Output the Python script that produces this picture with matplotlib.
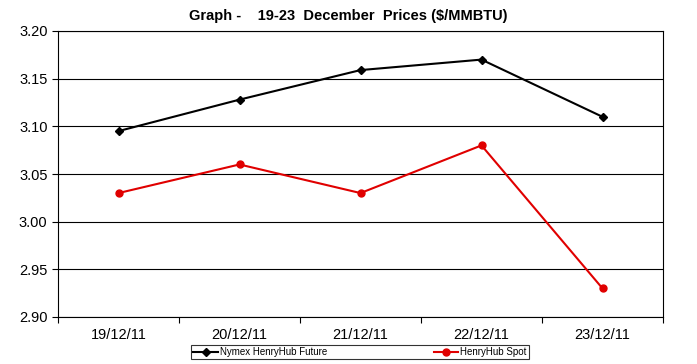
import matplotlib
matplotlib.use("Agg")
import matplotlib.pyplot as plt
from matplotlib.ticker import FixedLocator

plt.rcParams['font.family'] = ['Liberation Sans', 'DejaVu Sans']

dates = ["19/12/11", "20/12/11", "21/12/11", "22/12/11", "23/12/11"]
future = [3.095, 3.128, 3.159, 3.170, 3.110]
spot = [3.03, 3.06, 3.03, 3.08, 2.93]
yticks = [2.90, 2.95, 3.00, 3.05, 3.10, 3.15, 3.20]

fig = plt.figure(figsize=(6.97, 3.64), dpi=100)
ax = fig.add_axes([58/697, 1-317/364, (663-58)/697, (317-31)/364])

x = list(range(len(dates)))
ax.plot(x, future, color='black', lw=1.5, marker='D', ms=4, label='Nymex HenryHub Future', zorder=3)
ax.plot(x, spot, color='#e00000', lw=1.5, marker='o', ms=5, label='HenryHub Spot', zorder=3)

ax.set_xlim(-0.5, len(dates)-0.5)
ax.set_ylim(2.90, 3.20)
ax.set_yticks(yticks)
ax.set_yticklabels([f"{v:.2f}" for v in yticks], fontsize=10.5)
ax.set_xticks(x)
ax.set_xticklabels(dates, fontsize=10.5)
ax.xaxis.set_minor_locator(FixedLocator([i - 0.5 for i in range(len(dates) + 1)]))
ax.yaxis.grid(True, color='black', lw=0.8)
ax.set_axisbelow(True)
for s in ax.spines.values():
    s.set_linewidth(0.8)
ax.tick_params(axis='y', length=4, width=0.8, direction='out')
ax.tick_params(axis='x', which='major', length=0, pad=8)
ax.tick_params(axis='x', which='minor', length=4, width=0.8, direction='out')

fig.suptitle("Graph -    19-23  December  Prices ($/MMBTU)", fontsize=10.5, fontweight='bold', y=0.975)

leg = fig.legend(loc='center', bbox_to_anchor=(360/697, 1-352/364), ncol=2, fontsize=7,
                 frameon=True, fancybox=False, edgecolor='black', columnspacing=11,
                 handlelength=2.5, borderpad=0.25, handletextpad=0.2)
leg.get_frame().set_linewidth(0.8)

fig.savefig("out.png", dpi=100)
